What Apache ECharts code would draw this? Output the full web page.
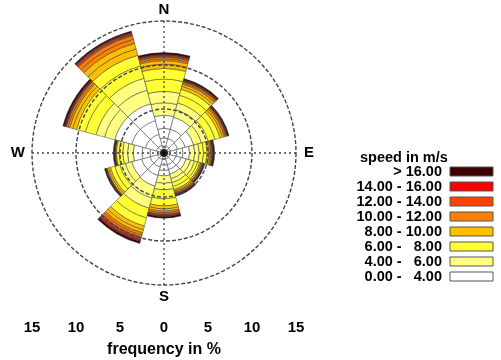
<!DOCTYPE html>
<html>
<head>
<meta charset="utf-8">
<script src="https://cdn.jsdelivr.net/npm/echarts@6/dist/echarts.min.js"></script>
<style>
  html, body { margin: 0; padding: 0; background: #fff; }
  #main { width: 501px; height: 360px; }
</style>
</head>
<body>
<div id="main"></div>
<script>
// directions, clockwise from north
const directions = ['0', '30', '60', '90', '120', '150', '180', '210', '240', '270', '300', '330'];

// frequency (%) per 1 m/s bin, one value per direction
const bin0to1 = [0.8, 0.8, 0.75, 0.7, 0.7, 0.7, 0.7, 0.75, 0.75, 0.75, 0.9, 0.9];
const bin1to2 = [0.9, 0.9, 0.85, 0.75, 0.7, 0.7, 0.7, 0.9, 0.9, 0.85, 1.3, 1.3];
const bin2to3 = [1.1, 1.1, 0.9, 0.7, 0.6, 0.55, 0.6, 1.0, 1.0, 0.9, 1.6, 1.6];
const bin3to4 = [1.5, 1.4, 1.0, 0.75, 0.6, 0.55, 0.6, 1.25, 1.15, 1.0, 2.0, 2.0];
const bin4to5 = [1.4, 0.9, 0.9, 0.6, 0.55, 0.55, 0.85, 1.4, 0.75, 0.65, 1.2, 1.6];
const bin5to6 = [1.3, 0.8, 0.8, 0.5, 0.45, 0.45, 0.75, 1.2, 0.65, 0.55, 1.0, 1.4];
const bin6to7 = [1.4, 0.9, 0.8, 0.5, 0.35, 0.45, 1.0, 1.15, 0.6, 0.4, 1.25, 1.45];
const bin7to8 = [1.2, 0.7, 0.6, 0.4, 0.25, 0.35, 0.8, 0.95, 0.5, 0.3, 1.05, 1.25];
const bin8to9 = [0.5, 0.35, 0.3, 0.2, 0.15, 0.17, 0.35, 0.45, 0.22, 0.09, 0.45, 0.75];
const bin9to10 = [0.4, 0.25, 0.2, 0.15, 0.1, 0.13, 0.25, 0.35, 0.18, 0.06, 0.35, 0.65];
const bin10to11 = [0.22, 0.17, 0.14, 0.11, 0.08, 0.11, 0.2, 0.28, 0.06, 0.03, 0.22, 0.5];
const bin11to12 = [0.18, 0.13, 0.11, 0.09, 0.07, 0.09, 0.15, 0.22, 0.04, 0.02, 0.18, 0.4];
const bin12to13 = [0.1, 0.06, 0.06, 0.05, 0.03, 0.05, 0.08, 0.16, 0.03, 0.02, 0.06, 0.14];
const bin13to14 = [0.1, 0.04, 0.04, 0.05, 0.02, 0.05, 0.07, 0.14, 0.02, 0.01, 0.04, 0.12];
const bin14to15 = [0.05, 0.05, 0.03, 0.03, 0.03, 0.03, 0.05, 0.1, 0.03, 0.02, 0.05, 0.07];
const bin15to16 = [0.05, 0.05, 0.02, 0.02, 0.02, 0.02, 0.05, 0.1, 0.02, 0.01, 0.05, 0.06];
const binOver16 = [0.2, 0.15, 0.15, 0.15, 0.1, 0.15, 0.2, 0.25, 0.1, 0.1, 0.2, 0.15];

// speed classes (legend), top to bottom
const classNames = ['> 16.00', '14.00 - 16.00', '12.00 - 14.00', '10.00 - 12.00',
  '8.00 - 10.00', '6.00 -   8.00', '4.00 -   6.00', '0.00 -   4.00'];
const classColors = ['#3c0000', '#ff0000', '#ff4000', '#ff8000',
  '#ffbf00', '#ffff33', '#ffff80', '#ffffff'];

const compassLabels = {0: '{n|N}', 90: '{e|E}', 180: '{n|S}', 270: '{w|W}'};
const centerDot = [[0, 0]];

// bins from the centre outwards, each with its class index
const bins = [
  [bin0to1, 7], [bin1to2, 7], [bin2to3, 7], [bin3to4, 7],
  [bin4to5, 6], [bin5to6, 6], [bin6to7, 5], [bin7to8, 5],
  [bin8to9, 4], [bin9to10, 4], [bin10to11, 3], [bin11to12, 3],
  [bin12to13, 2], [bin13to14, 2], [bin14to15, 1], [bin15to16, 1],
  [binOver16, 0]
];

const chart = echarts.init(document.getElementById('main'));
const font = 'Liberation Sans, Arial, sans-serif';
const compassText = {fontFamily: font, fontSize: 15, fontWeight: 'bold', color: '#000'};

const barSeries = bins.map(([values, ci]) => ({
  type: 'bar',
  name: classNames[ci],
  coordinateSystem: 'polar',
  polarIndex: 0,
  stack: 'rose',
  data: values,
  barCategoryGap: '0%',
  itemStyle: {
    color: classColors[ci],
    borderColor: '#3a3a3a',
    borderWidth: 0.5
  },
  emphasis: {disabled: true},
  z: 2
}));

const option = {
  animation: false,
  title: {
    text: 'speed in m/s',
    left: 360,
    top: 150,
    padding: 0,
    textStyle: {fontFamily: font, fontSize: 14.5, fontWeight: 'bold', color: '#000'}
  },
  legend: {
    data: classNames,
    orient: 'vertical',
    left: 346,
    top: 164,
    align: 'right',
    padding: 0,
    itemGap: 0,
    itemWidth: 43,
    itemHeight: 9,
    icon: 'rect',
    selectedMode: false,
    itemStyle: {borderColor: '#555', borderWidth: 1},
    textStyle: {
      fontFamily: font, fontSize: 14.5, fontWeight: 'bold', color: '#000',
      width: 96, align: 'right', lineHeight: 13.6, padding: [0, 3, 0, 0]
    }
  },
  polar: [
    {center: [164, 153], radius: 132},
    {center: [164, 153], radius: 132}
  ],
  angleAxis: [
    {
      polarIndex: 0,
      type: 'category',
      data: directions,
      startAngle: 105,
      clockwise: true,
      axisLine: {show: false},
      axisTick: {show: false},
      axisLabel: {show: false},
      splitLine: {show: false}
    },
    {
      polarIndex: 1,
      type: 'value',
      min: 0,
      max: 360,
      interval: 90,
      startAngle: 90,
      clockwise: true,
      z: 10,
      axisLine: {show: false},
      axisTick: {show: false},
      axisLabel: {
        margin: 4,
        formatter: v => compassLabels[v] || '',
        rich: {
          n: compassText,
          e: Object.assign({padding: [0, 0, 0, 4]}, compassText),
          w: Object.assign({padding: [0, 3, 0, 0]}, compassText)
        }
      },
      splitLine: {show: true, lineStyle: {color: '#444', width: 1.3, type: [2, 3]}}
    }
  ],
  radiusAxis: [
    {polarIndex: 0, min: 0, max: 15, show: false},
    {
      polarIndex: 1,
      min: 0,
      max: 15,
      interval: 5,
      z: 10,
      axisLine: {show: false},
      axisTick: {show: false},
      axisLabel: {show: false},
      splitLine: {show: true, lineStyle: {color: '#444', width: 1.4, type: [4, 2]}}
    }
  ],
  grid: {left: 32, width: 264, top: 302, height: 13},
  xAxis: {
    type: 'value',
    min: -15,
    max: 15,
    interval: 5,
    axisLine: {show: false},
    axisTick: {show: false},
    splitLine: {show: false},
    axisLabel: {
      margin: 5,
      fontFamily: font, fontSize: 15, fontWeight: 'bold', color: '#000',
      formatter: v => String(Math.abs(v))
    },
    name: 'frequency in %',
    nameLocation: 'middle',
    nameGap: 27,
    nameTextStyle: {fontFamily: font, fontSize: 16, fontWeight: 'bold', color: '#000'}
  },
  yAxis: {type: 'value', show: false},
  series: barSeries.concat([{
    type: 'scatter',
    coordinateSystem: 'polar',
    polarIndex: 1,
    data: centerDot,
    symbolSize: 8,
    itemStyle: {color: '#000'},
    z: 12,
    silent: true
  }])
};

chart.setOption(option);
</script>
</body>
</html>
